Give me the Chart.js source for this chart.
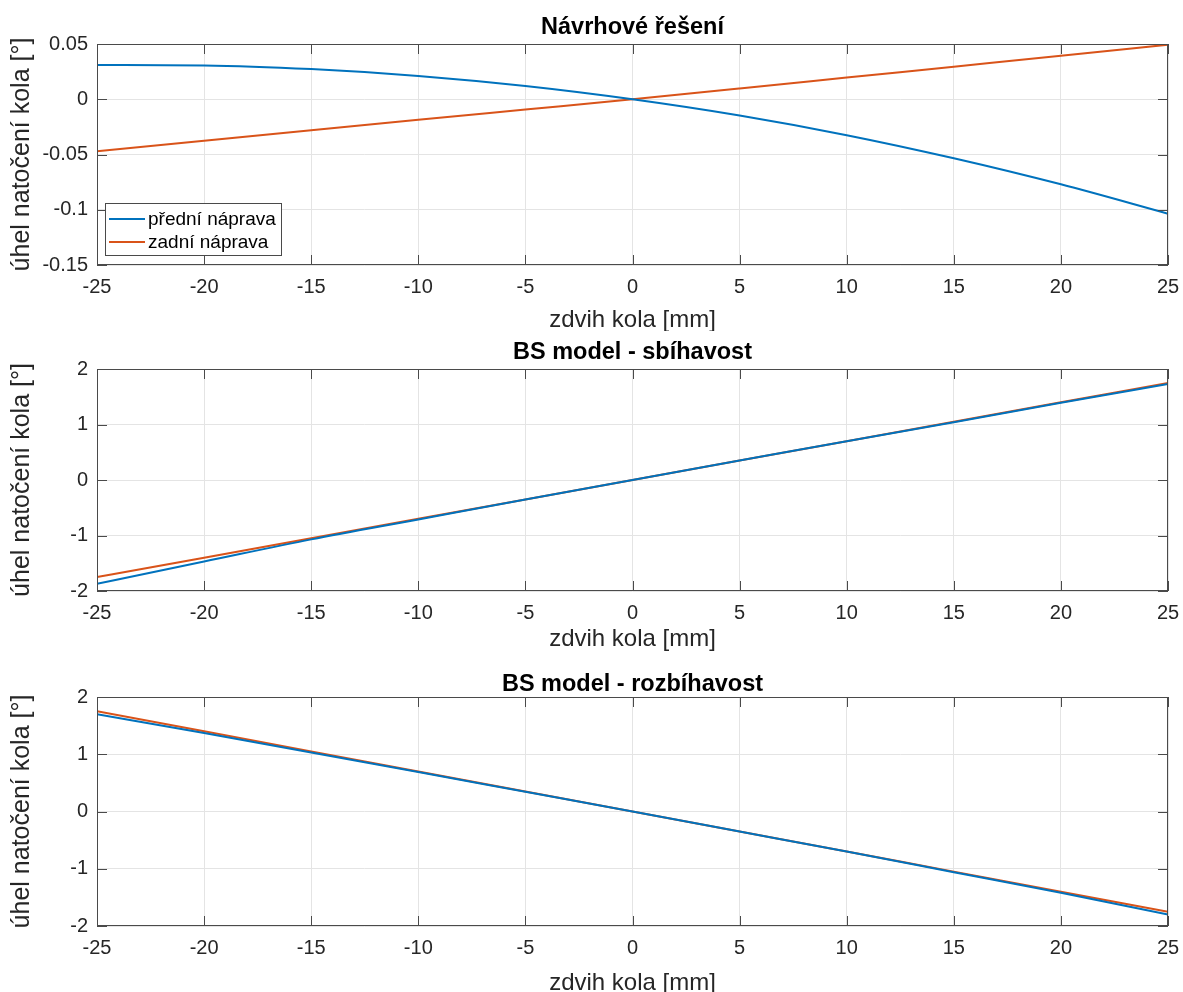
<!DOCTYPE html>
<html>
<head>
<meta charset="utf-8">
<script src="https://cdn.jsdelivr.net/npm/chart.js@4.4.1/dist/chart.umd.min.js"></script>
<style>
  body { margin: 0; background: #fff; }
  .panel { position: absolute; left: 0; width: 1183px; }
</style>
</head>
<body>
<div class="panel" style="top:0px;height:331px"><canvas id="c1" width="1183" height="331"></canvas></div>
<div class="panel" style="top:331px;height:325px"><canvas id="c2" width="1183" height="325"></canvas></div>
<div class="panel" style="top:656px;height:336px"><canvas id="c3" width="1183" height="336"></canvas></div>
<script>
// zdvih kola [mm]
const zdvih = [-25, -20, -15, -10, -5, 0, 5, 10, 15, 20, 25];
const xTicks = [-25, -20, -15, -10, -5, 0, 5, 10, 15, 20, 25];

// Návrhové řešení
const navrhPredni = [0.031, 0.0306, 0.0273, 0.0211, 0.012, 0, -0.0147, -0.0325, -0.0534, -0.077, -0.1036];
const navrhZadni = [-0.047, -0.0375, -0.028, -0.0186, -0.0093, 0, 0.0097, 0.0196, 0.0295, 0.0394, 0.0494];
const navrhYTicks = [-0.15, -0.1, -0.05, 0, 0.05];

// BS model - sbíhavost
const sbihPredni = [-1.87, -1.47, -1.07, -0.71, -0.35, 0, 0.35, 0.70, 1.04, 1.39, 1.73];
const sbihZadni = [-1.75, -1.40, -1.05, -0.70, -0.35, 0, 0.35, 0.70, 1.05, 1.40, 1.75];

// BS model - rozbíhavost
const rozbPredni = [1.70, 1.37, 1.03, 0.69, 0.345, 0, -0.35, -0.70, -1.06, -1.42, -1.80];
const rozbZadni = [1.75, 1.40, 1.05, 0.70, 0.35, 0, -0.35, -0.70, -1.05, -1.40, -1.75];
const bsYTicks = [-2, -1, 0, 1, 2];

const seriesNames = ['přední náprava', 'zadní náprava'];
const colors = ['#0072BD', '#D95319'];
const FONT = 'Arial, "Liberation Sans", Helvetica, sans-serif';
const TXT = '#262626';

// MATLAB-like box with inner ticks on all four sides
const boxPlugin = {
    id: 'boxTicks',
    afterDatasetsDraw(chart) {
        const ctx = chart.ctx, a = chart.chartArea;
        const x = chart.scales.x, y = chart.scales.y;
        ctx.save();
        ctx.strokeStyle = '#4a4a4a';
        ctx.lineWidth = 1;
        ctx.beginPath();
        x.ticks.forEach(t => {
            const px = Math.round(x.getPixelForValue(t.value)) + 0.5;
            ctx.moveTo(px, a.bottom); ctx.lineTo(px, a.bottom - 10);
            ctx.moveTo(px, a.top); ctx.lineTo(px, a.top + 10);
        });
        y.ticks.forEach(t => {
            const py = Math.round(y.getPixelForValue(t.value)) + 0.5;
            ctx.moveTo(a.left, py); ctx.lineTo(a.left + 10, py);
            ctx.moveTo(a.right, py); ctx.lineTo(a.right - 10, py);
        });
        ctx.stroke();
        ctx.strokeRect(Math.round(a.left) + 0.5, Math.round(a.top) + 0.5,
                       Math.round(a.width) - 1, Math.round(a.height) - 1);
        ctx.restore();
    }
};

// legend box inside the plot, bottom left
const legendPlugin = {
    id: 'boxLegend',
    afterDraw(chart, args, opts) {
        if (!opts.show) return;
        const ctx = chart.ctx, a = chart.chartArea;
        const w = 176, h = 52;
        const bx = a.left + 8, by = a.bottom - 10 - h;
        ctx.save();
        ctx.fillStyle = '#fff';
        ctx.fillRect(bx, by, w, h);
        ctx.strokeStyle = '#4a4a4a';
        ctx.lineWidth = 1;
        ctx.strokeRect(bx + 0.5, by + 0.5, w, h);
        ctx.font = '19px ' + FONT;
        ctx.textBaseline = 'middle';
        chart.data.datasets.forEach((ds, i) => {
            const ry = by + 16 + i * 23;
            ctx.strokeStyle = ds.borderColor;
            ctx.lineWidth = 2;
            ctx.beginPath();
            ctx.moveTo(bx + 4, ry); ctx.lineTo(bx + 40, ry);
            ctx.stroke();
            ctx.fillStyle = '#000';
            ctx.fillText(ds.label, bx + 43, ry + 1);
        });
        ctx.restore();
    }
};

function fmt(v) {
    return String(Number(v.toFixed(3)));
}

function makeChart(id, title, predni, zadni, yTicks, p) {
    const ctx = document.getElementById(id).getContext('2d');
    return new Chart(ctx, {
        type: 'line',
        data: {
            datasets: [
                { label: seriesNames[0], data: zdvih.map((x, i) => ({ x: x, y: predni[i] })), borderColor: colors[0] },
                { label: seriesNames[1], data: zdvih.map((x, i) => ({ x: x, y: zadni[i] })), borderColor: colors[1] }
            ].map(d => Object.assign(d, {
                borderWidth: 2, pointRadius: 0, fill: false,
                cubicInterpolationMode: 'monotone'
            }))
        },
        options: {
            responsive: false,
            animation: false,
            layout: { padding: { left: 0, right: 15, top: 0, bottom: 0 } },
            plugins: {
                legend: { display: false },
                tooltip: { enabled: false },
                title: {
                    display: true, text: title, color: '#000', fullSize: false,
                    font: { family: FONT, size: 23.5, weight: 'bold', lineHeight: 1.2 },
                    padding: { top: p.tTop, bottom: p.tBottom }
                },
                boxLegend: { show: !!p.legend }
            },
            scales: {
                x: {
                    type: 'linear', min: -25, max: 25,
                    afterBuildTicks: s => { s.ticks = xTicks.map(v => ({ value: v })); },
                    afterFit: s => { s.height = p.xH; s.paddingLeft = 0; s.paddingRight = 0; },
                    grid: { color: '#e4e4e4', drawTicks: false },
                    border: { display: false },
                    ticks: { color: TXT, padding: 10, maxRotation: 0, autoSkip: false,
                             font: { family: FONT, size: 20 }, callback: v => fmt(v) },
                    title: { display: true, text: 'zdvih kola [mm]', color: TXT,
                             font: { family: FONT, size: 24, lineHeight: 1 },
                             padding: { top: 0, bottom: p.xtBottom } }
                },
                y: {
                    type: 'linear', min: yTicks[0], max: yTicks[yTicks.length - 1],
                    afterBuildTicks: s => { s.ticks = yTicks.map(v => ({ value: v })); },
                    afterFit: s => { s.width = 97; },
                    grid: { color: '#e4e4e4', drawTicks: false },
                    border: { display: false },
                    ticks: { color: TXT, padding: 9, autoSkip: false,
                             font: { family: FONT, size: 20 }, callback: v => fmt(v) },
                    title: { display: true, text: 'úhel natočení kola [°]', color: TXT,
                             font: { family: FONT, size: 25, lineHeight: 1 },
                             padding: { top: 10, bottom: 0 } }
                }
            }
        },
        plugins: [boxPlugin, legendPlugin]
    });
}

makeChart('c1', 'Návrhové řešení', navrhPredni, navrhZadni, navrhYTicks,
    { tTop: 13.9, tBottom: 1.9, xH: 66, xtBottom: -1, legend: true });
makeChart('c2', 'BS model - sbíhavost', sbihPredni, sbihZadni, bsYTicks,
    { tTop: 7.9, tBottom: 1.9, xH: 65, xtBottom: 5 });
makeChart('c3', 'BS model - rozbíhavost', rozbPredni, rozbZadni, bsYTicks,
    { tTop: 14.9, tBottom: -2.1, xH: 66, xtBottom: -3 });
</script>
</body>
</html>
